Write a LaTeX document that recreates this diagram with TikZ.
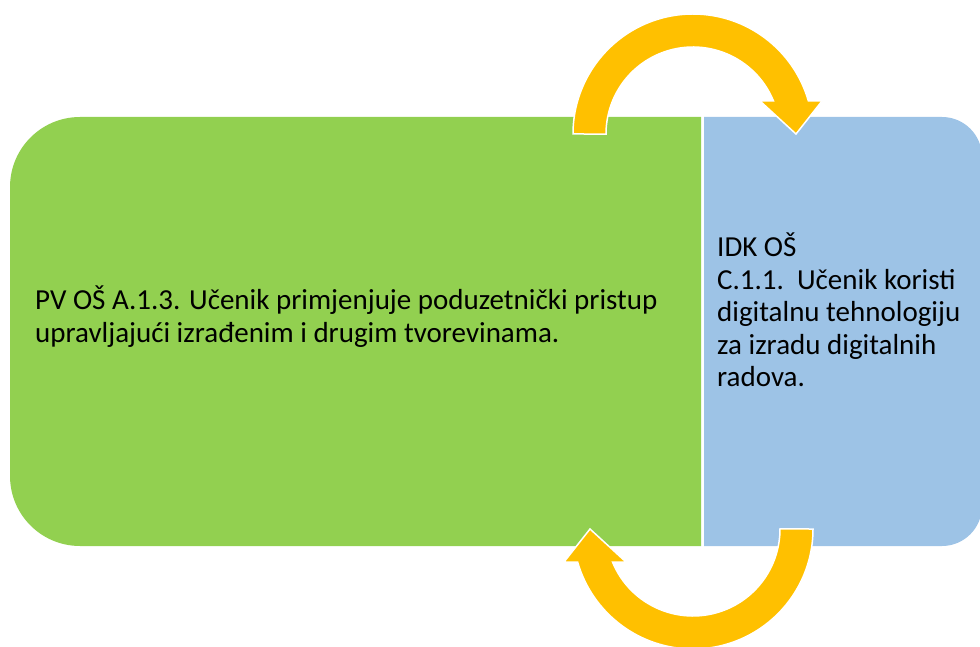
\documentclass[tikz,border=0pt]{standalone}
\usepackage{fontspec}
\setmainfont{Carlito}
\definecolor{boxgreen}{HTML}{92D050}
\definecolor{boxblue}{HTML}{9DC3E6}
\definecolor{arroworange}{HTML}{FFC000}
\tikzset{
  circarrow/.style={fill=arroworange, draw=white, line width=1.5pt, line join=miter},
  boxtext/.style={anchor=base west, align=left, inner sep=0pt, font=\fontsize{29}{33}\selectfont, text=black},
}
\begin{document}
\begin{tikzpicture}[x=1pt,y=1pt]
\useasboundingbox (0,0) rectangle (980,646);
% green box
\fill[boxgreen] (701,529) -- (80,529) arc[start angle=90,end angle=180,radius=70]
  -- (10,170) arc[start angle=180,end angle=270,radius=70] -- (701,100) -- cycle;
% blue box
\fill[boxblue] (704,529) -- (942,529) arc[start angle=90,end angle=0,radius=40]
  -- (982,140) arc[start angle=0,end angle=-90,radius=40] -- (704,100) -- cycle;
% text
\node[boxtext] (pv) at (35,303) {PV OŠ A.1.3. Učenik primjenjuje poduzetnički pristup\\upravljajući izrađenim i drugim tvorevinama.};
\node[boxtext, font=\fontsize{29}{32.5}\selectfont] (idk) at (717,259) {IDK OŠ\\C.1.1.\ \ Učenik koristi\\digitalnu tehnologiju\\za izradu digitalnih\\radova.};
% top arrow
\draw[circarrow] (573,512) arc[start angle=180,end angle=16,radius=120]
  -- (822,545) -- (796,512) -- (760,545) -- (773.5,545)
  arc[start angle=22.3,end angle=180,radius=87] -- cycle;
% bottom arrow (rotated copy)
\begin{scope}[rotate around={180:(693,314.5)}]
\draw[circarrow] (573,512) arc[start angle=180,end angle=16,radius=120]
  -- (822,545) -- (796,512) -- (760,545) -- (773.5,545)
  arc[start angle=22.3,end angle=180,radius=87] -- cycle;
\end{scope}
\end{tikzpicture}
\end{document}
